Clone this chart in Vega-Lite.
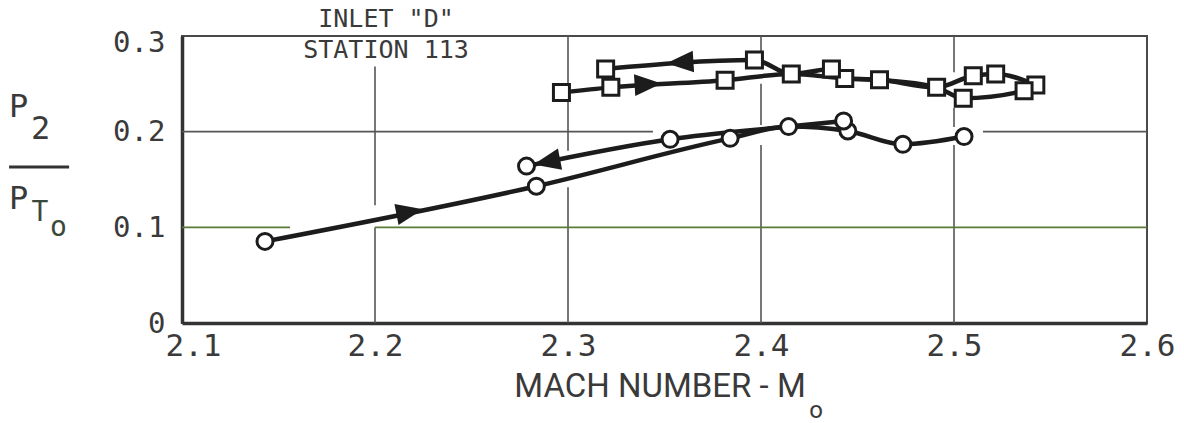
{
  "$schema": "https://vega.github.io/schema/vega-lite/v6.json",
  "width": 965,
  "height": 287,
  "autosize": {"type": "none"},
  "padding": {"left": 182, "top": 36, "right": 37, "bottom": 100},
  "background": "white",
  "config": {"view": {"stroke": "#4a4a4a", "strokeWidth": 2}},
  "resolve": {"scale": {"shape": "independent"}},
  "datasets": {
    "grid": [
      {"kind": "g", "mach": 2.1, "mach2": 2.344, "ratio": 0.2, "ratio2": 0.2},
      {"kind": "g", "mach": 2.515, "mach2": 2.6, "ratio": 0.2, "ratio2": 0.2},
      {"kind": "g01", "mach": 2.1, "mach2": 2.156, "ratio": 0.1, "ratio2": 0.1},
      {"kind": "g01", "mach": 2.2, "mach2": 2.6, "ratio": 0.1, "ratio2": 0.1},
      {"kind": "g", "mach": 2.2, "mach2": 2.2, "ratio": 0, "ratio2": 0.1},
      {"kind": "g", "mach": 2.2, "mach2": 2.2, "ratio": 0.123, "ratio2": 0.268},
      {"kind": "g", "mach": 2.3, "mach2": 2.3, "ratio": 0.18, "ratio2": 0.3},
      {"kind": "g", "mach": 2.3, "mach2": 2.3, "ratio": 0, "ratio2": 0.142},
      {"kind": "g", "mach": 2.4, "mach2": 2.4, "ratio": 0.28, "ratio2": 0.3},
      {"kind": "g", "mach": 2.4, "mach2": 2.4, "ratio": 0.207, "ratio2": 0.25},
      {"kind": "g", "mach": 2.4, "mach2": 2.4, "ratio": 0, "ratio2": 0.186},
      {"kind": "g", "mach": 2.5, "mach2": 2.5, "ratio": 0.262, "ratio2": 0.3},
      {"kind": "g", "mach": 2.5, "mach2": 2.5, "ratio": 0.205, "ratio2": 0.225},
      {"kind": "g", "mach": 2.5, "mach2": 2.5, "ratio": 0, "ratio2": 0.186},
      {"kind": "frac", "mach": 2.0104, "mach2": 2.0415, "ratio": 0.1631, "ratio2": 0.1631}
    ],
    "pts": [
      {"inlet": "circle", "path": "c_up", "mach": 2.143, "ratio": 0.0853, "pt": 1},
      {"inlet": "circle", "path": "c_up", "mach": 2.2836, "ratio": 0.143, "pt": 1},
      {"inlet": "circle", "path": "c_up", "mach": 2.384, "ratio": 0.193, "pt": 1},
      {"inlet": "circle", "path": "c_up", "mach": 2.4143, "ratio": 0.2053, "pt": 0},
      {"inlet": "circle", "path": "c_up", "mach": 2.445, "ratio": 0.2007, "pt": 1},
      {"inlet": "circle", "path": "c_up", "mach": 2.4735, "ratio": 0.1868, "pt": 1},
      {"inlet": "circle", "path": "c_up", "mach": 2.5052, "ratio": 0.1949, "pt": 1},
      {"inlet": "circle", "path": "c_dn", "mach": 2.2785, "ratio": 0.164, "pt": 1},
      {"inlet": "circle", "path": "c_dn", "mach": 2.3529, "ratio": 0.192, "pt": 1},
      {"inlet": "circle", "path": "c_dn", "mach": 2.4143, "ratio": 0.2053, "pt": 1},
      {"inlet": "circle", "path": "c_dn", "mach": 2.4428, "ratio": 0.2112, "pt": 1},
      {"inlet": "square", "path": "s_up", "mach": 2.2966, "ratio": 0.241, "pt": 1},
      {"inlet": "square", "path": "s_up", "mach": 2.3222, "ratio": 0.2463, "pt": 1},
      {"inlet": "square", "path": "s_up", "mach": 2.3814, "ratio": 0.2537, "pt": 1},
      {"inlet": "square", "path": "s_up", "mach": 2.4157, "ratio": 0.2602, "pt": 1},
      {"inlet": "square", "path": "s_up", "mach": 2.4434, "ratio": 0.2557, "pt": 1},
      {"inlet": "square", "path": "s_up", "mach": 2.4614, "ratio": 0.2542, "pt": 1},
      {"inlet": "square", "path": "s_up", "mach": 2.491, "ratio": 0.2463, "pt": 1},
      {"inlet": "square", "path": "s_up", "mach": 2.51, "ratio": 0.2585, "pt": 1},
      {"inlet": "square", "path": "s_up", "mach": 2.5216, "ratio": 0.2602, "pt": 1},
      {"inlet": "square", "path": "s_up", "mach": 2.5424, "ratio": 0.2487, "pt": 1},
      {"inlet": "square", "path": "s_dn", "mach": 2.3195, "ratio": 0.2655, "pt": 1},
      {"inlet": "square", "path": "s_dn", "mach": 2.3966, "ratio": 0.2749, "pt": 1},
      {"inlet": "square", "path": "s_dn", "mach": 2.4157, "ratio": 0.2602, "pt": 0},
      {"inlet": "square", "path": "s_dn", "mach": 2.4365, "ratio": 0.2655, "pt": 1},
      {"inlet": "square", "path": "s_dn", "mach": 2.4434, "ratio": 0.2557, "pt": 0},
      {"inlet": "square", "path": "s_dn", "mach": 2.4614, "ratio": 0.2542, "pt": 0},
      {"inlet": "square", "path": "s_dn", "mach": 2.491, "ratio": 0.2463, "pt": 0},
      {"inlet": "square", "path": "s_dn", "mach": 2.5048, "ratio": 0.235, "pt": 1},
      {"inlet": "square", "path": "s_dn", "mach": 2.5363, "ratio": 0.2427, "pt": 1},
      {"inlet": "square", "path": "s_dn", "mach": 2.5424, "ratio": 0.2487, "pt": 0}
    ],
    "arrows": [
      {"inlet": "circle", "dir": "right", "mach": 2.218, "ratio": 0.1161},
      {"inlet": "circle", "dir": "left", "mach": 2.289, "ratio": 0.1685},
      {"inlet": "square", "dir": "right", "mach": 2.3415, "ratio": 0.2495},
      {"inlet": "square", "dir": "left", "mach": 2.358, "ratio": 0.2725}
    ],
    "texts": [
      {"role": "big", "label": "P", "mach": 2.0153, "ratio": 0.2263},
      {"role": "big", "label": "2", "mach": 2.0267, "ratio": 0.2033},
      {"role": "big", "label": "P", "mach": 2.0153, "ratio": 0.1301},
      {"role": "sub", "label": "T", "mach": 2.0264, "ratio": 0.115},
      {"role": "sub", "label": "o", "mach": 2.036, "ratio": 0.0988},
      {"role": "note", "label": "INLET \"D\"", "mach": 2.2057, "ratio": 0.3178},
      {"role": "note", "label": "STATION 113", "mach": 2.2057, "ratio": 0.2854},
      {"role": "xtitle", "label": "MACH NUMBER - M", "mach": 2.3477, "ratio": -0.0665},
      {"role": "xsub", "label": "o", "mach": 2.4285, "ratio": -0.0915}
    ]
  },
  "encoding": {
    "x": {
      "field": "mach", "type": "quantitative",
      "scale": {"domain": [2.1, 2.6], "nice": false, "zero": false},
      "axis": {
        "values": [2.1, 2.2, 2.3, 2.4, 2.5, 2.6], "format": ".1f",
        "grid": false, "ticks": false, "domainWidth": 3.5, "domainColor": "#333333",
        "labelFont": "DejaVu Sans Mono", "labelFontSize": 31, "labelColor": "#3a3a3a",
        "labelPadding": 8, "labelFlush": false, "labelOverlap": false, "title": null,
        "labelOffset": {"condition": {"test": "datum.value < 2.15", "value": 11}, "value": 0}
      }
    },
    "y": {
      "field": "ratio", "type": "quantitative",
      "scale": {"domain": [0, 0.3], "nice": false, "zero": false},
      "axis": {
        "values": [0, 0.1, 0.2, 0.3],
        "labelExpr": "datum.value == 0 ? '0' : format(datum.value, '.1f')",
        "grid": false, "ticks": false, "domainWidth": 3.5, "domainColor": "#333333",
        "labelFont": "DejaVu Sans Mono", "labelFontSize": 29, "labelColor": "#3a3a3a",
        "labelPadding": 17, "labelOverlap": false, "title": null,
        "labelOffset": {"condition": {"test": "datum.value > 0.25", "value": 6}, "value": 0}
      }
    }
  },
  "layer": [
    {
      "data": {"name": "grid"},
      "transform": [{"filter": "datum.kind == 'g'"}],
      "mark": {"type": "rule", "color": "#555555", "strokeWidth": 1.6},
      "encoding": {"x2": {"field": "mach2"}, "y2": {"field": "ratio2"}}
    },
    {
      "data": {"name": "grid"},
      "transform": [{"filter": "datum.kind == 'g01'"}],
      "mark": {"type": "rule", "color": "#5a7a3a", "strokeWidth": 1.6},
      "encoding": {"x2": {"field": "mach2"}, "y2": {"field": "ratio2"}}
    },
    {
      "data": {"name": "grid"},
      "transform": [{"filter": "datum.kind == 'frac'"}],
      "mark": {"type": "rule", "color": "#333333", "strokeWidth": 3},
      "encoding": {"x2": {"field": "mach2"}, "y2": {"field": "ratio2"}}
    },
    {
      "data": {"name": "pts"},
      "mark": {"type": "line", "interpolate": "monotone", "color": "#1c1c1c", "strokeWidth": 4.5, "strokeCap": "round", "strokeJoin": "round"},
      "encoding": {"detail": {"field": "path", "type": "nominal"}}
    },
    {
      "data": {"name": "pts"},
      "transform": [{"filter": "datum.pt == 1"}],
      "mark": {"type": "point", "fill": "white", "stroke": "#1c1c1c", "strokeWidth": 3, "opacity": 1, "fillOpacity": 1, "size": 256},
      "encoding": {
        "shape": {"field": "inlet", "type": "nominal", "scale": {"domain": ["circle", "square"], "range": ["circle", "square"]}, "legend": null}
      }
    },
    {
      "data": {"name": "arrows"},
      "transform": [{"filter": "datum.inlet == 'circle'"}],
      "mark": {"type": "point", "filled": true, "color": "#1c1c1c", "opacity": 1, "angle": -11, "size": 729, "strokeWidth": 0},
      "encoding": {
        "shape": {"field": "dir", "type": "nominal", "scale": {"domain": ["right", "left"], "range": ["M-1,-0.8L1,0L-1,0.8Z", "M1,-0.8L-1,0L1,0.8Z"]}, "legend": null}
      }
    },
    {
      "data": {"name": "arrows"},
      "transform": [{"filter": "datum.inlet == 'square'"}],
      "mark": {"type": "point", "filled": true, "color": "#1c1c1c", "opacity": 1, "angle": -3.5, "size": 729, "strokeWidth": 0},
      "encoding": {
        "shape": {"field": "dir", "type": "nominal", "scale": {"domain": ["right", "left"], "range": ["M-1,-0.8L1,0L-1,0.8Z", "M1,-0.8L-1,0L1,0.8Z"]}, "legend": null}
      }
    },
    {
      "data": {"name": "texts"},
      "transform": [{"filter": "datum.role == 'big'"}],
      "mark": {"type": "text", "font": "DejaVu Sans Mono", "fontSize": 32, "color": "#3a3a3a", "align": "center", "baseline": "middle"},
      "encoding": {"text": {"field": "label"}}
    },
    {
      "data": {"name": "texts"},
      "transform": [{"filter": "datum.role == 'sub'"}],
      "mark": {"type": "text", "font": "DejaVu Sans Mono", "fontSize": 28, "color": "#3a4a3a", "align": "center", "baseline": "middle"},
      "encoding": {"text": {"field": "label"}}
    },
    {
      "data": {"name": "texts"},
      "transform": [{"filter": "datum.role == 'note'"}],
      "mark": {"type": "text", "font": "DejaVu Sans Mono", "fontSize": 25, "color": "#3a3a3a", "align": "center", "baseline": "middle"},
      "encoding": {"text": {"field": "label"}}
    },
    {
      "data": {"name": "texts"},
      "transform": [{"filter": "datum.role == 'xtitle'"}],
      "mark": {"type": "text", "font": "Roboto", "fontSize": 33, "color": "#3a3a3a", "align": "center", "baseline": "middle"},
      "encoding": {"text": {"field": "label"}}
    },
    {
      "data": {"name": "texts"},
      "transform": [{"filter": "datum.role == 'xsub'"}],
      "mark": {"type": "text", "font": "Roboto", "fontSize": 24, "color": "#3a3a3a", "align": "center", "baseline": "middle"},
      "encoding": {"text": {"field": "label"}}
    }
  ]
}
